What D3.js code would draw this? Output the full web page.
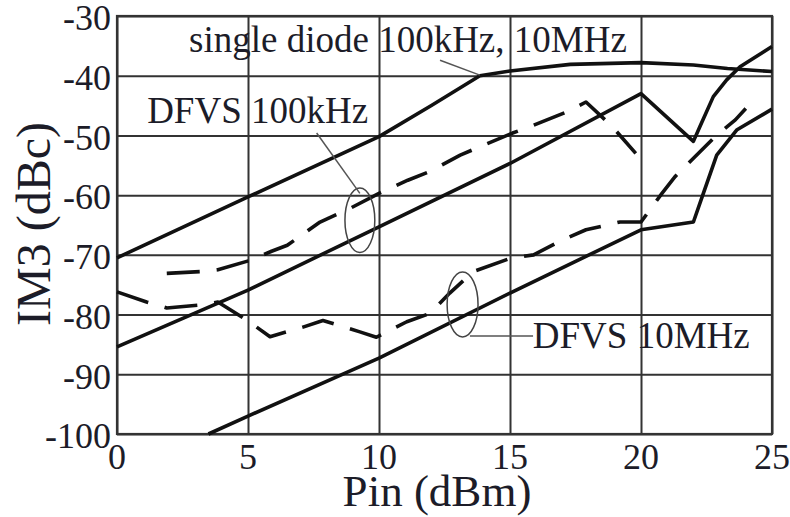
<!DOCTYPE html>
<html>
<head>
<meta charset="utf-8">
<script src="https://cdn.jsdelivr.net/npm/d3@7"></script>
<style>
  body { margin: 0; background: #fff; }
  text { font-family: "Liberation Serif", "DejaVu Serif", serif; fill: #1c1c28; }
</style>
</head>
<body>
<svg id="chart" width="790" height="517"></svg>
<script>
// tick values
const pinTicks = [0, 5, 10, 15, 20, 25];
const im3Ticks = [-100, -90, -80, -70, -60, -50, -40, -30];

// curves: [Pin (dBm), IM3 (dBc)]
const singleDiode = [[0, -70.5], [5, -60.3], [10, -50.2], [12, -45], [13.85, -40], [15, -39.2],
  [17.3, -38.1], [20, -37.8], [22, -38.2], [23.3, -38.8], [25, -39.3]];
const dfvs100kSim = [[0, -85.4], [5, -75.9], [10, -65.3], [15, -54.7], [20, -43], [22, -51],
  [22.25, -48.5], [22.76, -43.5], [23.27, -40.7], [23.78, -38.5], [25, -35.1]];
const dfvs10MSim = [[3.49, -100], [5, -97], [10, -87.3], [15, -76.4], [20, -65.8], [22, -64.5],
  [22.38, -59.7], [22.89, -53.3], [23.65, -49.1], [25, -45.6]];
const dfvs100kMeas = [[1.9, -73.1], [3.2, -72.8], [3.85, -72.5], [5.1, -70.9], [5.9, -69.4],
  [6.5, -68.4], [7.75, -64.5], [8.9, -62.2], [10, -59.7], [11.1, -57.5], [11.9, -56.1], [13.1, -53.3],
  [13.9, -51.8], [15.1, -49.6], [15.9, -48.3], [17.2, -46], [17.9, -44.4], [18.9, -48.5], [19.8, -53]];
const dfvs10MMeas = [[0, -76.2], [1.13, -77.9], [1.9, -78.9], [3.17, -78.4], [3.85, -77.9],
  [4.95, -80.9], [5.84, -83.7], [7.1, -82.1], [7.86, -81], [9.27, -82.9], [9.9, -83.8], [11.06, -81.2],
  [11.95, -79.8], [12.7, -76.4], [13.6, -72.8], [15, -70.6], [15.9, -70], [17, -67.5], [17.9, -65.8],
  [19.2, -64.5], [20, -64.5], [20.8, -59.7], [21.3, -56.9], [22.9, -49.9], [23.6, -47.4], [24, -45.5]];

// annotations (data units)
const labels = [
  {text: "single diode 100kHz, 10MHz", x: 2.75, y: -36},
  {text: "DFVS 100kHz", x: 1.15, y: -48},
  {text: "DFVS 10MHz", x: 15.87, y: -85.6}
];
const ellipses = [
  {cx: 9.27, cy: -64.2, rx: 0.57, ry: 5.4},
  {cx: 13.19, cy: -78.3, rx: 0.59, ry: 5.45}
];
const leaders = [
  [[12.33, -37.4], [13.85, -39.9]],
  [[7.62, -49.6], [9.27, -59.7]],
  [[13.47, -83.6], [15.88, -83.6]]
];

const svg = d3.select("#chart");
const x = d3.scaleLinear().domain([0, 25]).range([117, 772]);
const y = d3.scaleLinear().domain([-100, -30]).range([434, 16]);

// grid
svg.append("g")
  .attr("transform", "translate(0," + y(-100) + ")")
  .call(d3.axisBottom(x).tickValues(pinTicks).tickSize(-(y(-100) - y(-30))).tickFormat(""))
  .call(g => g.select(".domain").remove())
  .selectAll("line").attr("stroke", "#333").attr("stroke-width", 2);

svg.append("g")
  .attr("transform", "translate(" + x(0) + ",0)")
  .call(d3.axisLeft(y).tickValues(im3Ticks).tickSize(-(x(25) - x(0))).tickFormat(""))
  .call(g => g.select(".domain").remove())
  .selectAll("line").attr("stroke", "#333").attr("stroke-width", 2);

svg.append("rect")
  .attr("x", x(0)).attr("y", y(-30))
  .attr("width", x(25) - x(0)).attr("height", y(-100) - y(-30))
  .attr("fill", "none").attr("stroke", "#333").attr("stroke-width", 2.2);

// tick labels
svg.append("g").selectAll("text")
  .data(im3Ticks).enter().append("text")
    .attr("x", 111).attr("y", d => y(d) + 2).attr("dy", "0.34em")
    .attr("text-anchor", "end").attr("font-size", 36)
    .text(d => d);

svg.append("g").selectAll("text")
  .data(pinTicks).enter().append("text")
    .attr("x", d => x(d)).attr("y", 469)
    .attr("text-anchor", "middle").attr("font-size", 36)
    .text(d => d);

// axis titles
svg.append("text")
  .attr("x", 437).attr("y", 506)
  .attr("text-anchor", "middle").attr("font-size", 45)
  .text("Pin (dBm)");

svg.append("text")
  .attr("transform", "translate(50,224) rotate(-90)")
  .attr("text-anchor", "middle").attr("font-size", 48)
  .text("IM3 (dBc)");

// curves
const line = d3.line().x(d => x(d[0])).y(d => y(d[1]));
const curves = svg.append("g").attr("fill", "none").attr("stroke", "#111")
  .attr("stroke-width", 3.6).attr("stroke-linejoin", "round");

[singleDiode, dfvs100kSim, dfvs10MSim].forEach(function(d) {
  curves.append("path").attr("d", line(d));
});
[dfvs100kMeas, dfvs10MMeas].forEach(function(d) {
  curves.append("path").attr("d", line(d)).attr("stroke-dasharray", "33,17");
});

// annotations
svg.append("g").selectAll("ellipse")
  .data(ellipses).enter().append("ellipse")
    .attr("cx", d => x(d.cx)).attr("cy", d => y(d.cy))
    .attr("rx", d => x(d.rx) - x(0)).attr("ry", d => y(-100) - y(-100 + d.ry))
    .attr("fill", "none").attr("stroke", "#444").attr("stroke-width", 1.5);

svg.append("g").selectAll("path")
  .data(leaders).enter().append("path")
    .attr("d", line)
    .attr("fill", "none").attr("stroke", "#555").attr("stroke-width", 1.5);

svg.append("g").selectAll("text")
  .data(labels).enter().append("text")
    .attr("x", d => x(d.x)).attr("y", d => y(d.y))
    .attr("font-size", 37)
    .text(d => d.text);
</script>
</body>
</html>
